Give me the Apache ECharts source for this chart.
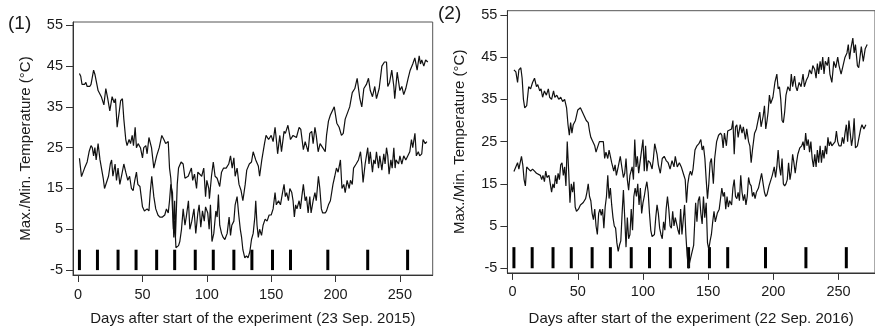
<!DOCTYPE html>
<html><head><meta charset="utf-8">
<script src="https://cdn.jsdelivr.net/npm/echarts@6/dist/echarts.min.js"></script>
<style>html,body{margin:0;padding:0;background:#fff}#c{width:875px;height:334px}</style>
</head><body><div id="c"></div>
<script>
const yTicks = [-5, 5, 15, 25, 35, 45, 55];
const xTicks = [0, 50, 100, 150, 200, 250];
const barDays = [1, 15, 31, 45, 61, 75, 91, 105, 121, 135, 151, 165, 194, 225, 256];
const barTop = 0, barBottom = -5;
const panelLabels = ['(1)', '(2)'];
const xTitles = ['Days after start of the experiment (23 Sep. 2015)', 'Days after start of the experiment (22 Sep. 2016)'];
const yTitle = 'Max./Min. Temperature (°C)';

const maxT1 = [[1,43.2],[2,42.5],[3,40.5],[5,40.5],[6,41],[7,40],[9,40],[10,40.5],[12,44],[13,43],[14,43],[15.5,39],[18,37.5],[20,35.5],[21.5,39.5],[23,37],[24.6,34],[26.4,37.5],[28,36],[29,37],[30.3,30],[32,34],[33,36.5],[34.4,37],[35.5,32],[37,27],[38,25.5],[39.6,27],[40.7,26],[42,28],[43,25.5],[44.3,30],[45.3,25],[46.6,26],[48.4,25],[50,22.5],[51,25],[52.6,25.5],[53.6,23.5],[55,27.5],[57,25],[58.8,20],[61,23],[63,25],[65,28],[66.6,27],[68,26],[70,26.5],[71,20],[72,17.5],[73,12],[74,5],[75,12],[75.6,3],[77,16],[78,20],[80,21.5],[81.6,21],[83,17.5],[85.5,18],[88,20],[89,17],[90.4,18.5],[92,15],[93,19],[96,18],[97.6,20],[99,13],[100,17],[101.5,15],[102,12.5],[103.6,18],[105,21.5],[106.4,18],[108,17.5],[110,15.5],[111.4,19],[113,20],[115,20],[117,21],[118.4,23],[119.7,20],[121,22.5],[122,18],[123.5,20],[125,16],[126.6,14.5],[128,12],[129.8,16],[131,19.5],[133,21],[134.7,21.5],[136,24],[138,22],[140,20.5],[141,18],[142.7,22],[144.8,26],[146,28],[148,27],[150,28],[151.5,26.5],[153,30],[154,27],[155,23.5],[156.7,28],[158,24],[160,29],[161,28.5],[163,30.5],[165,27],[167,28],[169.6,27.5],[171.7,30],[173,29.5],[175,24.5],[176.4,26.5],[178.7,24],[180,28.5],[181.5,29],[182.6,26],[184,30],[185,28],[186.5,24],[188,26],[190,25],[192,24],[193,28],[194.5,31.5],[196,33],[199,35],[201,31],[202.8,30],[204.6,28],[206,28.5],[207.5,32],[209,32],[211,35],[213,38.5],[215,39.5],[216.8,42],[218.9,37],[220.4,35],[222,39.5],[224,40.5],[225.6,42],[227,39],[228.7,37.5],[230.5,40],[231.8,37],[233.9,39.5],[236,45],[238,46],[239.6,46],[240.6,40],[242,41],[243.7,44],[245.3,40],[246,37],[247.9,43.5],[250,39],[251.5,40],[253,38],[254.6,39.5],[256.4,42],[258,44],[260,45.5],[261.6,47],[263.4,44],[265,47.5],[266,45.5],[267,46.5],[268.6,45],[270,46.5],[271.7,46]];

const minT1 = [[1,22.4],[2.6,17.9],[5,20],[7,21.5],[8.5,24],[10,25.5],[11,25],[12,23],[13,25],[14,22],[15.5,26],[17,22],[18.4,22],[19.5,17.5],[20.5,15],[22,15],[23.6,18],[25,21],[26,22],[27,18],[28.7,21],[29.8,17],[31,20],[32.4,16],[34,18.5],[35.5,21],[37,19],[38.6,17],[40,18],[41.4,15],[42.7,14.5],[44,17],[45.3,19],[46.4,16],[48,15.5],[50,10.5],[51.5,9.5],[53.6,10],[55,9.5],[56,14],[57.2,18],[58.8,13],[60.3,10],[62,8.5],[63.5,8],[65.5,8],[67.3,8.5],[68.6,10],[70,9],[71,12],[72,16],[73.3,14],[74.3,3],[75,7],[76,0.5],[77,0.5],[78,1],[79,2],[80.3,5],[81.6,10],[83,6],[84,8],[85.7,12],[86.8,5],[88.3,7],[90,10],[91.4,4],[93,9],[94,11],[95.3,5.5],[96.6,9.5],[98,7],[99,10.5],[100.7,9],[101.8,5],[102.8,11],[104,2],[105.4,4],[107,9.5],[108,8],[109,13.5],[110,6],[111.4,4],[112.7,3],[114,2.5],[115.8,4],[117.3,8],[118.4,3.5],[119.4,6],[121,7],[122,11],[123.5,13],[124.8,8.5],[126,5],[127,3],[128,0],[129.5,-2],[130.8,-1.5],[132,-2],[133.4,-0.5],[134.7,2.5],[136,4],[137.3,8],[138,12],[139,6],[140,3],[141,5],[142.5,3.5],[143.7,6],[145.3,7.5],[146.8,7],[148.4,8.5],[150,8.5],[151.5,10],[153,14],[154,11],[155.7,12],[157.2,11],[158.8,14],[160,16],[161,13],[162,14],[163.4,12],[164.5,15],[166,14],[167,12],[168,8],[169,11],[170,10],[171.7,12],[172.7,10],[173.8,13],[175,16],[176.4,12],[177.4,13],[178.7,9],[180,13],[181,9],[182.6,12],[184,14],[185,12],[186.7,18],[187.8,15],[189,10],[190,9],[192,9],[193,9.5],[194.5,11],[196,12],[198,16],[199.4,18],[200.7,20],[202,19],[203.8,22],[205,15],[206.4,16],[207.5,14],[209,17],[210.6,15],[211.6,17],[213,16],[214,20],[216,21],[217.8,22],[219.4,24],[220.4,21],[221.4,16.5],[223,21],[224,21],[225,25],[226,21],[227,24],[228.7,19],[229.7,22],[230.8,21],[231.8,24],[233.4,20],[234.4,23],[236,19.5],[237.5,23.5],[238.5,21],[239.6,25],[240.6,23],[241.6,18.5],[243,22],[244,20],[245.3,25],[246.3,20],[247,22],[249,21],[250,23],[251.5,21],[253,23],[254.6,22],[256,22],[257.7,24],[259,27],[260,25],[261.7,28.5],[262.8,23],[264.3,24],[265.4,23],[267,23.5],[268,27],[269.7,26],[271,26.5]];

const maxT2 = [[1,42],[2.5,41.5],[3.8,39],[4.8,42],[6.3,42.5],[7.3,40],[8.3,35],[9.3,33],[10.8,33.5],[12.3,38],[13.8,37.5],[15.3,39],[16.8,40],[18.3,38],[19.3,38.5],[20.8,37],[21.8,37.5],[23,35.5],[24.4,37],[25.9,36],[27.4,37.5],[28.4,35.5],[29.9,35],[31.4,37],[32.4,35.5],[33.9,36],[35.4,35],[36.9,35.5],[38.4,34.5],[39.9,35],[41.4,33],[42.5,29],[43.5,26.5],[44.5,29.5],[45.5,27],[46.5,29],[48.2,30],[50,32.5],[52,33],[53.5,32],[55,32],[56.5,30],[58,29.5],[59,27.5],[60,26],[61.5,25],[63,24],[64,22.5],[65,23.5],[66.6,25],[68,25],[69.6,25],[70.6,21],[71.6,22.5],[73,21],[74,23],[75,21.5],[76,20],[77.6,18],[78.6,19.5],[79.6,17],[81,19],[82.6,21.5],[84,18.5],[85,16.5],[86,17.5],[87,21],[88,16],[89,13.5],[90,17],[91.7,19],[92.7,16],[93.7,25.5],[94.7,19],[95.7,21.5],[96.7,17.5],[97.7,20],[99,20],[100,25.5],[101,18],[102,24],[103,18],[104,20.5],[105.5,20],[107,18.5],[108,21],[109,24.5],[110.8,22],[111.8,19.5],[113.3,17.5],[114.8,21],[116.3,21.5],[117.8,20.5],[119.3,20],[120.8,18.5],[122.3,20.5],[123.8,19],[124.8,21.5],[126.3,19],[127.9,20],[129.4,19],[130.9,17.5],[132.4,16],[133.4,10.5],[134.4,15],[135.4,17],[136.4,18],[137.4,17],[138.4,18.5],[139.9,23],[141.4,24],[142.9,24.5],[144.4,25.5],[145.4,23],[146.4,24],[147.5,21],[148.5,16],[149.5,11.5],[150.5,15],[151.5,20],[152.5,21],[154,15],[155,21],[156.5,25],[158,26.5],[159.5,27],[160.5,26.5],[161.5,23.5],[162.5,27],[164,24],[165,27.5],[166.5,27.5],[168,28],[169,30],[170,22],[171,28.5],[172,29],[173,26],[174.6,29],[176,27],[177,28.5],[178.6,25.5],[179.6,28],[181,25],[182,24],[183,20],[184,23],[185.6,27],[187,28],[188.6,30.5],[189.6,32],[190.6,28.5],[192.2,31],[193.2,33.5],[194.2,28],[195.2,30],[196,32],[197,36],[198,34],[199.7,35.5],[201.2,39],[202.7,41],[203.7,37.5],[204.7,38],[205.7,35],[206.7,30],[207.7,29.5],[208.7,32],[209.7,36],[211.2,38],[212.8,37],[213.8,41],[214.8,38],[216.3,40.5],[217.3,38],[218.3,37],[219.8,39],[221.3,38],[222.8,41],[223.8,38],[225.3,39.5],[226.8,40.5],[227.8,42],[229.3,41],[230.3,43],[231.8,42],[232.8,40],[233.8,43.5],[234.8,41],[235.9,44],[236.9,42],[237.9,45],[238.9,41],[239.9,44],[241.4,43],[242.4,45],[243.4,41],[244.9,39],[246.4,44],[247.9,42.5],[249.4,45],[250.4,43],[252,41],[253.5,43],[255,45],[256.5,46],[257.5,48],[258.5,44.5],[259.5,47],[261,49.5],[262,46],[263,48],[264.5,43],[265.5,42.5],[266.5,45],[267.5,47.5],[269,44],[270.5,47],[272,48]];

const minT2 = [[1,17.9],[2.5,18],[3.8,20],[4.8,18.5],[5.8,20],[6.8,21.5],[7.8,19.5],[8.8,16],[9.8,14.5],[10.8,19],[12.3,18.5],[13.8,18],[15.3,18.5],[16.8,18],[18.3,17.5],[19.8,17.5],[21.3,17],[22.3,16],[23.3,17],[24.4,15.5],[25.4,18],[26.4,16.5],[27.9,17],[28.9,15],[29.9,13],[30.9,15],[31.9,14],[32.9,17],[33.9,15],[34.9,17.5],[35.9,16],[36.9,19.5],[37.9,20],[38.9,17],[39.9,19],[40.9,14.5],[41.9,25],[43,18],[44,10.5],[45,15],[46,13],[47,15.5],[48,9.5],[49,8.5],[50.5,9],[52,10],[54,10.5],[55,11],[56,11.5],[57,13],[58,15],[59,12],[60,11],[61,8],[62,6.5],[63,9],[64,5],[65,3],[66,8],[67,9],[68,7.5],[69,9],[70,4.5],[71,9.5],[72,12],[73,17],[74,11.5],[75,14],[76,10],[77,7],[78,5],[79,4.5],[80,1],[81,-1],[82,0.5],[83,1.5],[84,8],[85,13.5],[86,7],[87,0],[88,7],[89,2],[90,3],[91,9],[92,4],[93,12],[94,14],[95,12],[96,15],[97,10],[98,14],[99,8],[100,10.5],[101,12],[102,14],[103,15.5],[104,13],[105,8],[106,4],[107,2.5],[108.8,3],[109.8,7],[110.8,10],[111.8,8],[112.8,4.5],[113.8,3],[114.8,2],[115.8,6],[116.8,4],[117.8,9],[118.8,12],[119.8,9],[120.8,5],[121.8,4.5],[122.8,8.5],[123.8,5],[124.8,7],[125.9,7],[126.9,4],[127.9,3],[128.9,9],[129.9,3],[130.9,3],[131.9,10],[132.9,3],[133.9,-2],[134.9,-5],[135.9,-3.5],[137.4,-1.5],[138.9,0.5],[140.4,10.5],[141.4,6],[142.4,11],[143.4,12],[144.4,8],[145.4,5.5],[146.4,12],[147.4,7],[148.5,10.5],[149.5,1],[150.5,-0.5],[151.5,1.5],[152.5,3],[153.5,6],[154.5,8.5],[155.5,6],[157,8],[158.5,9],[159.5,9],[160.5,14],[161.5,12],[162.5,13],[163.5,9],[164.5,12],[165.5,9.5],[166.5,11],[168,10],[169,14],[170,16],[171,12],[172,11.5],[173,13],[174,11],[175,17],[176,13],[177,11],[178,12.5],[179,10],[180,12],[181,16.5],[182,15],[183,14.5],[184,12],[185,13],[186,11.5],[187,13],[188.6,14],[190,16],[191,17.5],[192.2,15],[193.2,13],[194.2,12],[195.2,12.5],[196.7,14.5],[198.2,16],[199.2,17],[200.7,19],[201.7,16.5],[202.7,19],[203.7,23],[204.7,19],[205.7,17],[206.7,21],[207.7,15],[208.7,14.5],[209.7,15],[210.7,16],[211.7,20],[212.8,16],[213.8,18],[214.8,22],[215.8,20],[216.8,17.5],[217.8,20],[218.8,22],[220.3,23.5],[221.8,24],[222.8,25],[223.8,23],[224.8,27],[225.8,24],[226.8,25.5],[227.8,22.5],[228.8,25],[229.8,21],[230.8,19],[231.8,22],[232.8,19],[233.8,23],[234.8,20],[235.9,24],[236.9,20],[237.9,23],[238.9,21],[239.9,24],[240.9,22],[241.9,26],[242.9,24],[243.9,25],[244.9,24],[245.9,24],[247.4,25],[248.4,27.5],[249.4,25],[250.4,24],[252,24],[253,26],[254,24.5],[255,27],[256,29],[257,25],[258,30],[259,27],[260,24],[261,26],[262,30.5],[263,23.5],[264.5,24],[266,24],[267,28],[268,29],[269.5,28],[271,29]];

const FONT = "'Liberation Sans', Arial, sans-serif";
const TXT = '#1a1a1a';
const TICK_FS = 14.5, TITLE_FS = 15;

const panels = [
  {grid:{left:73, top:22, width:359.7, height:253}, xMin:-4, xMax:275.5, yMin:-6.2, yMax:55.8, series:[maxT1, minT1]},
  {grid:{left:507.4, top:10.7, width:374.2, height:262.2}, xMin:-4, xMax:278, yMin:-6.1, yMax:56, series:[maxT2, minT2]}
];

const option = {
  animation: false,
  backgroundColor: '#fff',
  textStyle: {fontFamily: FONT},
  title: [
    {text: panelLabels[0], left: 8, top: 14, textStyle:{fontSize:19, fontWeight:'normal', color:TXT, fontFamily:FONT}, padding:0},
    {text: panelLabels[1], left: 438, top: 4, textStyle:{fontSize:19, fontWeight:'normal', color:TXT, fontFamily:FONT}, padding:0}
  ],
  grid: panels.map(p => Object.assign({show:true, borderColor:'#555', borderWidth:1, backgroundColor:'transparent'}, p.grid)),
  xAxis: panels.map((p, i) => ({
    type:'value', gridIndex:i, min:p.xMin, max:p.xMax,
    name: xTitles[i], nameLocation:'middle', nameGap: i === 0 ? 36 : 38,
    nameTextStyle:{fontSize:TITLE_FS, color:TXT, fontFamily:FONT},
    axisLine:{show:true, onZero:false, lineStyle:{color:'#333', width:1}},
    axisTick:{show:true, length:7, customValues:xTicks, lineStyle:{color:'#333', width:1}},
    axisLabel:{customValues:xTicks, margin:12, fontSize:TICK_FS, color:TXT, fontFamily:FONT},
    splitLine:{show:false}
  })),
  yAxis: panels.map((p, i) => ({
    type:'value', gridIndex:i, min:p.yMin, max:p.yMax,
    name: yTitle, nameLocation:'middle', nameGap:40, nameRotate:90,
    nameTextStyle:{fontSize:TITLE_FS, color:TXT, fontFamily:FONT},
    axisLine:{show:true, onZero:false, lineStyle:{color:'#333', width:1}},
    axisTick:{show:true, length:7, customValues:yTicks, lineStyle:{color:'#333', width:1}},
    axisLabel:{customValues:yTicks, margin:10, fontSize:TICK_FS, color:TXT, fontFamily:FONT},
    splitLine:{show:false}
  })),
  series: []
};

panels.forEach((p, i) => {
  p.series.forEach(d => {
    option.series.push({type:'line', xAxisIndex:i, yAxisIndex:i, data:d, symbol:'none',
      lineStyle:{color:'#111', width:1.2}, silent:true});
  });
  option.series.push({
    type:'custom', xAxisIndex:i, yAxisIndex:i,
    data: barDays.map(d => [d, barTop, barBottom]),
    encode:{x:0, y:[1,2]},
    renderItem: (params, api) => {
      const a = api.coord([api.value(0), api.value(1)]);
      const b = api.coord([api.value(0), api.value(2)]);
      return {type:'rect', shape:{x:a[0]-1.5, y:a[1], width:3, height:b[1]-a[1]}, style:{fill:'#000'}};
    }
  });
});

const chart = echarts.init(document.getElementById('c'), null, {renderer:'canvas'});
chart.setOption(option);
</script>
</body></html>
